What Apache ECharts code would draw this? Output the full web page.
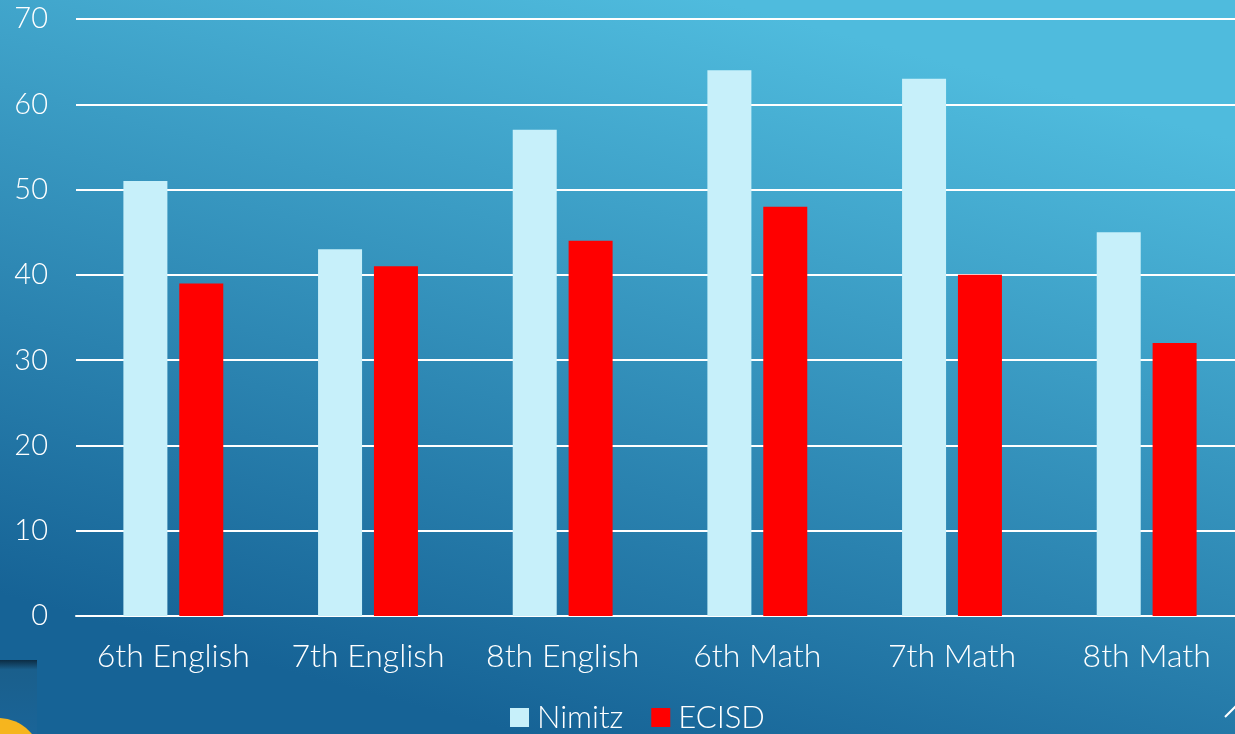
<!DOCTYPE html>
<html><head><meta charset="utf-8">
<script src="https://cdn.jsdelivr.net/npm/echarts@6/dist/echarts.min.js"></script>
<style>html,body{margin:0;padding:0;}#c{width:1235px;height:734px;}</style>
</head><body><div id="c"></div>
<script>
const categories = ['6th English','7th English','8th English','6th Math','7th Math','8th Math'];
const nimitz = [51, 43, 57, 64, 63, 45];
const ecisd = [39, 41, 44, 48, 40, 32];
const yTicks = [0, 10, 20, 30, 40, 50, 60, 70];

const chart = echarts.init(document.getElementById('c'));
const font = 'Lato, "Open Sans", sans-serif';
chart.setOption({
  backgroundColor: new echarts.graphic.LinearGradient(0.42, 1, 0.58, 0, [
    {offset: 0, color: '#166396'},
    {offset: 1, color: '#4fbbdd'}
  ]),
  textStyle: {fontFamily: font},
  grid: {left: 76, width: 1168, top: 19, bottom: 118, containLabel: false, outerBoundsMode: 'none'},
  legend: {
    bottom: 1, left: 510, padding: 0, itemWidth: 19, itemHeight: 19, itemGap: 28, icon: 'rect',
    textStyle: {color: '#fff', fontSize: 31, fontWeight: 300, fontFamily: font, padding: [0,0,0,3]},
    data: ['Nimitz','ECISD']
  },
  xAxis: {
    type: 'category', data: categories,
    axisLine: {lineStyle: {color: '#fff', width: 2}},
    axisTick: {show: false},
    axisLabel: {color: '#fff', fontSize: 32, fontWeight: 300, margin: 25, interval: 0, fontFamily: font}
  },
  yAxis: {
    type: 'value', min: yTicks[0], max: yTicks[yTicks.length-1], interval: 10,
    axisLine: {show: false}, axisTick: {show: false},
    splitLine: {lineStyle: {color: '#fff', width: 2}},
    axisLabel: {color: '#fff', fontSize: 29, fontWeight: 300, margin: 28, fontFamily: font}
  },
  series: [
    {name: 'Nimitz', type: 'bar', data: nimitz, barWidth: 44, barGap: '27%', itemStyle: {color: '#c7f0fa'}},
    {name: 'ECISD', type: 'bar', data: ecisd, barWidth: 44, itemStyle: {color: '#ff0000'}}
  ],
  graphic: [
    {type: 'rect', shape: {x: 0, y: 660, width: 37, height: 80},
     style: {fill: new echarts.graphic.LinearGradient(0,0,0,1,[{offset:0,color:'#0c2c44'},{offset:0.12,color:'#1a5f8c'},{offset:1,color:'#1a6599'}])}},
    {type: 'circle', shape: {cx: -2, cy: 762, r: 44}, style: {fill: '#f6b51e'}},
    {type: 'line', shape: {x1: 1225, y1: 717, x2: 1236, y2: 706}, style: {stroke: '#fff', lineWidth: 2}}
  ]
});
</script></body></html>
